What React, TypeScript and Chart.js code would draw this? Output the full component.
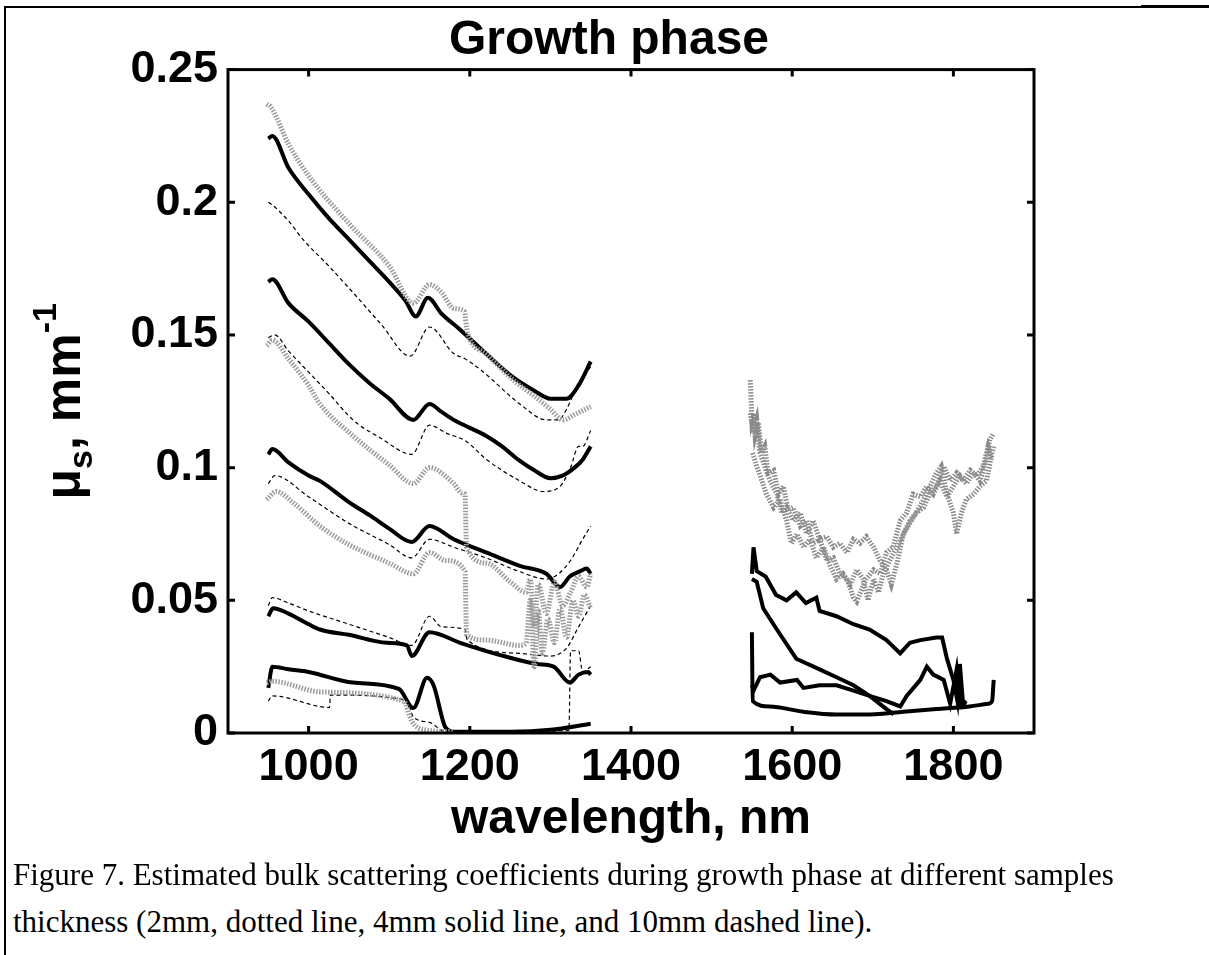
import { useEffect, useRef } from "react";
import { Chart, registerables } from "chart.js";
Chart.register(...registerables);

const FONT = "'Liberation Sans', Arial, Helvetica, sans-serif";

const titleText = "Growth phase";
const xTitle = "wavelength, nm";
const xTicks = [1000, 1200, 1400, 1600, 1800];
const yTicks = [0, 0.05, 0.1, 0.15, 0.2, 0.25];

// ---- 4 mm, solid (left band) ----
const wlS1 = [950, 955, 975, 1000, 1025, 1050, 1075, 1100, 1120, 1133, 1148, 1165, 1188, 1220, 1254, 1280, 1300, 1320, 1335, 1350];
const muS1 = [0.224, 0.225, 0.213, 0.203, 0.194, 0.186, 0.178, 0.170, 0.163, 0.157, 0.164, 0.158, 0.152, 0.143, 0.134, 0.129, 0.126, 0.126, 0.131, 0.140];
const wlS2 = [950, 955, 975, 1000, 1025, 1050, 1075, 1100, 1130, 1150, 1165, 1180, 1200, 1220, 1240, 1260, 1280, 1300, 1315, 1330, 1340, 1350];
const muS2 = [0.170, 0.171, 0.162, 0.155, 0.147, 0.139, 0.132, 0.126, 0.118, 0.124, 0.121, 0.118, 0.115, 0.112, 0.108, 0.103, 0.099, 0.096, 0.097, 0.100, 0.103, 0.108];
const wlS3 = [950, 955, 975, 1000, 1014, 1050, 1076, 1100, 1128, 1150, 1180, 1221, 1262, 1295, 1312, 1324, 1337, 1345, 1350];
const muS3 = [0.105, 0.107, 0.102, 0.097, 0.095, 0.087, 0.082, 0.077, 0.072, 0.078, 0.073, 0.068, 0.063, 0.060, 0.055, 0.059, 0.061, 0.062, 0.060];
const wlS4 = [950, 956, 975, 1000, 1014, 1050, 1097, 1122, 1128, 1150, 1188, 1242, 1283, 1304, 1324, 1335, 1347, 1350];
const muS4 = [0.044, 0.047, 0.045, 0.041, 0.039, 0.037, 0.034, 0.033, 0.029, 0.038, 0.034, 0.029, 0.026, 0.025, 0.019, 0.022, 0.023, 0.022];
const wlS5 = [950, 955, 975, 1000, 1055, 1112, 1130, 1147, 1155, 1170, 1180, 1250, 1300, 1350];
const muS5 = [0.017, 0.025, 0.024, 0.023, 0.019, 0.0166, 0.0094, 0.0208, 0.018, 0.002, 0.0005, 0.0005, 0.0012, 0.0035];

// ---- 10 mm, dashed (left band) ----
const wlD1 = [950, 955, 975, 993, 1025, 1055, 1090, 1126, 1150, 1180, 1194, 1213, 1262, 1295, 1310, 1320, 1335, 1350];
const muD1 = [0.200, 0.199, 0.193, 0.186, 0.176, 0.166, 0.154, 0.142, 0.153, 0.143, 0.141, 0.137, 0.124, 0.118, 0.118, 0.122, 0.132, 0.138];
const wlD2 = [950, 958, 975, 1000, 1025, 1055, 1090, 1128, 1150, 1171, 1195, 1221, 1262, 1291, 1312, 1325, 1335, 1340, 1350];
const muD2 = [0.149, 0.150, 0.144, 0.136, 0.128, 0.118, 0.111, 0.105, 0.116, 0.113, 0.110, 0.103, 0.095, 0.091, 0.093, 0.100, 0.108, 0.108, 0.114];
const wlD3 = [950, 958, 1000, 1050, 1100, 1128, 1150, 1180, 1220, 1260, 1295, 1310, 1325, 1340, 1350];
const muD3 = [0.094, 0.097, 0.089, 0.079, 0.071, 0.066, 0.073, 0.070, 0.066, 0.061, 0.058, 0.060, 0.065, 0.073, 0.078];
const wlD4 = [950, 955, 975, 1000, 1050, 1100, 1128, 1150, 1165, 1194, 1197, 1262, 1300, 1320, 1335, 1350];
const muD4 = [0.048, 0.051, 0.049, 0.046, 0.041, 0.036, 0.033, 0.044, 0.040, 0.039, 0.035, 0.030, 0.029, 0.032, 0.040, 0.048];
const wlD5 = [950, 955, 1026, 1027, 1122, 1130, 1150, 1170, 1200, 1250, 1323, 1325, 1335, 1340, 1350];
const muD5 = [0.012, 0.014, 0.0096, 0.0143, 0.0123, 0.006, 0.004, 0.0005, 0.0005, 0.0005, 0.001, 0.031, 0.031, 0.023, 0.025];

// ---- 2 mm, dotted (left band) ----
const wlG1 = [948, 953, 975, 1000, 1050, 1100, 1130, 1150, 1165, 1180, 1193, 1197, 1220, 1254, 1280, 1300, 1316, 1330, 1350];
const muG1 = [0.237, 0.236, 0.222, 0.210, 0.192, 0.176, 0.162, 0.169, 0.166, 0.160, 0.159, 0.151, 0.143, 0.133, 0.127, 0.122, 0.118, 0.120, 0.123];
const wlG2 = [948, 955, 975, 1000, 1014, 1055, 1100, 1130, 1150, 1180, 1190, 1194, 1196, 1221, 1250, 1270, 1275, 1280, 1285, 1295, 1305, 1315, 1325, 1335, 1345, 1350];
const muG2 = [0.146, 0.148, 0.141, 0.131, 0.124, 0.112, 0.101, 0.094, 0.100, 0.094, 0.0905, 0.090, 0.070, 0.064, 0.057, 0.053, 0.058, 0.040, 0.056, 0.045, 0.057, 0.048, 0.053, 0.059, 0.055, 0.060];
const wlG3 = [948, 960, 980, 1014, 1050, 1100, 1130, 1150, 1170, 1194, 1196, 1221, 1262, 1270, 1275, 1280, 1285, 1290, 1297, 1305, 1312, 1320, 1328, 1335, 1342, 1350];
const muG3 = [0.088, 0.091, 0.087, 0.078, 0.071, 0.064, 0.060, 0.068, 0.065, 0.061, 0.037, 0.035, 0.033, 0.034, 0.050, 0.025, 0.046, 0.030, 0.043, 0.034, 0.047, 0.036, 0.050, 0.044, 0.052, 0.047];
const wlG4 = [948, 955, 1014, 1118, 1128, 1142, 1180];
const muG4 = [0.0188, 0.0195, 0.0155, 0.012, 0.0045, 0.0013, 0.0005];

// ---- 2 mm, dotted (right band) ----
const wlR1 = [1548, 1550, 1552, 1554, 1558, 1562, 1566, 1570, 1577, 1583, 1589, 1595, 1601, 1610, 1618, 1626, 1634, 1643, 1651, 1659, 1668, 1676, 1680, 1686, 1692, 1701, 1709, 1717, 1725, 1734, 1742, 1750, 1759, 1767, 1775, 1783, 1792, 1800, 1808, 1816, 1825, 1833, 1841, 1845, 1850];
const muR1 = [0.133, 0.118, 0.1205, 0.112, 0.117, 0.1055, 0.108, 0.098, 0.099, 0.090, 0.093, 0.084, 0.085, 0.078, 0.080, 0.0715, 0.073, 0.065, 0.066, 0.060, 0.058, 0.051, 0.0495, 0.054, 0.058, 0.0615, 0.060, 0.068, 0.070, 0.080, 0.083, 0.090, 0.089, 0.093, 0.090, 0.095, 0.089, 0.093, 0.097, 0.094, 0.098, 0.095, 0.103, 0.1105, 0.113];
const wlR2 = [1548, 1552, 1556, 1560, 1566, 1572, 1581, 1587, 1593, 1601, 1610, 1618, 1626, 1634, 1643, 1651, 1659, 1668, 1676, 1684, 1692, 1701, 1709, 1717, 1723, 1730, 1738, 1746, 1754, 1763, 1771, 1779, 1785, 1792, 1800, 1804, 1810, 1816, 1825, 1833, 1841, 1848, 1850];
const muR2 = [0.1205, 0.113, 0.118, 0.1055, 0.1005, 0.0954, 0.090, 0.083, 0.085, 0.080, 0.083, 0.075, 0.080, 0.073, 0.074, 0.070, 0.0715, 0.068, 0.073, 0.0715, 0.074, 0.070, 0.065, 0.0615, 0.056, 0.064, 0.075, 0.080, 0.083, 0.088, 0.093, 0.098, 0.1005, 0.090, 0.083, 0.075, 0.083, 0.088, 0.090, 0.093, 0.095, 0.1055, 0.108];
const wlR3 = [1551, 1556, 1562, 1568, 1577, 1585, 1593, 1599, 1606, 1614, 1622, 1630, 1639, 1647, 1655, 1663, 1672, 1680, 1688, 1694, 1701, 1707, 1713, 1721, 1730, 1738, 1746, 1754, 1763, 1771, 1779, 1788, 1796, 1804, 1812, 1821, 1829, 1837, 1843, 1848];
const muR3 = [0.1055, 0.1005, 0.0954, 0.090, 0.085, 0.088, 0.080, 0.0715, 0.075, 0.070, 0.073, 0.066, 0.070, 0.063, 0.058, 0.060, 0.056, 0.0615, 0.058, 0.050, 0.058, 0.053, 0.060, 0.065, 0.070, 0.075, 0.079, 0.083, 0.085, 0.090, 0.093, 0.1005, 0.095, 0.098, 0.095, 0.099, 0.097, 0.1005, 0.108, 0.103];

// ---- 4 mm, solid (right band) ----
const wlB1 = [1550, 1552, 1556, 1567, 1580, 1593, 1605, 1617, 1630, 1634, 1655, 1676, 1696, 1717, 1734, 1746, 1759, 1779, 1786, 1792, 1800, 1805, 1808, 1812, 1816];
const muB1 = [0.060, 0.070, 0.061, 0.059, 0.052, 0.050, 0.053, 0.049, 0.051, 0.046, 0.044, 0.041, 0.039, 0.035, 0.030, 0.034, 0.035, 0.036, 0.036, 0.028, 0.020, 0.012, 0.026, 0.011, 0.012];
const wlB2 = [1550, 1556, 1564, 1581, 1605, 1634, 1655, 1676, 1696, 1717, 1726];
const muB2 = [0.058, 0.057, 0.047, 0.039, 0.028, 0.024, 0.021, 0.018, 0.014, 0.009, 0.007];
const wlB3 = [1550, 1552, 1560, 1573, 1585, 1606, 1614, 1634, 1655, 1676, 1696, 1717, 1734, 1742, 1759, 1767, 1775, 1788, 1796, 1804, 1808, 1816];
const muB3 = [0.018, 0.016, 0.021, 0.022, 0.019, 0.020, 0.017, 0.018, 0.018, 0.016, 0.014, 0.012, 0.010, 0.014, 0.020, 0.025, 0.022, 0.020, 0.011, 0.024, 0.011, 0.011];
const wlB4 = [1550, 1551, 1572, 1614, 1655, 1697, 1738, 1779, 1820, 1843, 1848, 1850];
const muB4 = [0.038, 0.012, 0.010, 0.008, 0.007, 0.007, 0.008, 0.009, 0.010, 0.011, 0.012, 0.020];

const pts = (wl: number[], mu: number[]) => wl.map((w, i) => ({ x: w, y: mu[i] }));

const solid = { borderColor: "#000", borderWidth: 4, borderDash: [] as number[], cubicInterpolationMode: "monotone" };
const solidR = { borderColor: "#000", borderWidth: 4, borderDash: [] as number[] };
const dashed = { borderColor: "#000", borderWidth: 1.2, borderDash: [4, 3], cubicInterpolationMode: "monotone" };
const dotted = { borderColor: "#9a9a9a", borderWidth: 5, borderDash: [1.5, 1.5], cubicInterpolationMode: "monotone" };
const dottedR = { borderColor: "#8a8a8a", borderWidth: 5, borderDash: [1.5, 1.5] };

const series: [number[], number[], any][] = [
  [wlG1, muG1, dotted], [wlG2, muG2, dotted], [wlG3, muG3, dotted], [wlG4, muG4, dotted],
  [wlR1, muR1, dottedR], [wlR2, muR2, dottedR], [wlR3, muR3, dottedR],
  [wlD1, muD1, dashed], [wlD2, muD2, dashed], [wlD3, muD3, dashed], [wlD4, muD4, dashed], [wlD5, muD5, dashed],
  [wlS1, muS1, solid], [wlS2, muS2, solid], [wlS3, muS3, solid], [wlS4, muS4, solid], [wlS5, muS5, solid],
  [wlB1, muB1, solidR], [wlB2, muB2, solidR], [wlB3, muB3, solidR], [wlB4, muB4, solid],
];

const framePlugin = {
  id: "matlabFrame",
  afterDraw(chart: any) {
    const { ctx, chartArea, scales } = chart;
    const { left, right, top, bottom } = chartArea;
    const xs = scales.x, ys = scales.y;
    ctx.save();
    ctx.strokeStyle = "#000";
    ctx.lineWidth = 3;
    ctx.strokeRect(left, top, right - left, bottom - top);
    const tl = 7;
    ctx.beginPath();
    xTicks.forEach((v) => {
      const px = xs.getPixelForValue(v);
      ctx.moveTo(px, bottom); ctx.lineTo(px, bottom - tl);
      ctx.moveTo(px, top); ctx.lineTo(px, top + tl);
    });
    yTicks.forEach((v) => {
      const py = ys.getPixelForValue(v);
      ctx.moveTo(left, py); ctx.lineTo(left + tl, py);
      ctx.moveTo(right, py); ctx.lineTo(right - tl, py);
    });
    ctx.stroke();

    // y-axis title with subscript / superscript
    const big = `bold 50px ${FONT}`;
    const small = `bold 34px ${FONT}`;
    const parts: [string, string, number][] = [["μ", big, 0], ["s", small, 12], [", mm", big, 0], ["-1", small, -24]];
    let total = 0;
    parts.forEach(([t, f]) => { ctx.font = f; total += ctx.measureText(t).width; });
    ctx.translate(80, (top + bottom) / 2);
    ctx.rotate(-Math.PI / 2);
    ctx.fillStyle = "#000";
    ctx.textBaseline = "alphabetic";
    ctx.textAlign = "left";
    let cx = -total / 2;
    parts.forEach(([t, f, dy]) => { ctx.font = f; ctx.fillText(t, cx, dy); cx += ctx.measureText(t).width; });
    ctx.restore();
  },
};

export default function App() {
  const ref = useRef<HTMLCanvasElement>(null);
  useEffect(() => {
    if (!ref.current) return;
    const chart = new Chart(ref.current, {
      type: "line",
      data: {
        datasets: series.map(([wl, mu, st]) => ({
          data: pts(wl, mu),
          ...st,
          pointRadius: 0,
          fill: false,
        })),
      },
      options: {
        animation: false,
        responsive: true,
        maintainAspectRatio: false,
        layout: { padding: { left: 9, right: 0, top: 0, bottom: 0 } },
        plugins: {
          legend: { display: false },
          tooltip: { enabled: false },
          title: {
            display: true,
            text: titleText,
            color: "#000",
            font: { size: 48, weight: "bold", family: FONT },
            padding: { top: 12, bottom: 0 },
          },
        },
        scales: {
          x: {
            type: "linear",
            min: 900,
            max: 1900,
            grid: { display: false, drawTicks: false },
            border: { display: false },
            afterBuildTicks: (s: any) => { s.ticks = xTicks.map((v) => ({ value: v })); },
            ticks: {
              color: "#000",
              padding: 8,
              maxRotation: 0,
              autoSkip: false,
              font: { size: 45, weight: "bold", family: FONT },
              callback: (v: any) => String(v),
            },
            title: {
              display: true,
              text: xTitle,
              color: "#000",
              font: { size: 48, weight: "bold", family: FONT },
              padding: { top: 0, bottom: 11 },
            },
            afterFit: (s: any) => { s.height = 127; },
          },
          y: {
            min: 0,
            max: 0.25,
            grid: { display: false, drawTicks: false },
            border: { display: false },
            afterBuildTicks: (s: any) => { s.ticks = yTicks.map((v) => ({ value: v })); },
            ticks: {
              color: "#000",
              padding: 10,
              autoSkip: false,
              font: { size: 45, weight: "bold", family: FONT },
              callback: (v: any) => String(Math.round(Number(v) * 100) / 100),
            },
            afterFit: (s: any) => { s.width = 219; },
          },
          yRight: {
            position: "right",
            min: 0,
            max: 0.25,
            grid: { display: false, drawTicks: false },
            border: { display: false },
            ticks: { display: false },
            afterFit: (s: any) => { s.width = 175; },
          },
        },
      },
      plugins: [framePlugin],
    });
    return () => chart.destroy();
  }, []);

  const capStyle: any = {
    position: "absolute",
    left: 13,
    whiteSpace: "nowrap",
    fontFamily: "'Liberation Serif', 'Times New Roman', serif",
    fontSize: 31,
    color: "#000",
  };

  return (
    <div style={{ position: "absolute", left: 0, top: 0, width: 1209, height: 955, background: "#fff", overflow: "hidden" }}>
      <div style={{ position: "absolute", left: 4, top: 6, width: 1137, height: 2, background: "#000" }} />
      <div style={{ position: "absolute", left: 1141, top: 5, width: 68, height: 3, background: "#000" }} />
      <div style={{ position: "absolute", left: 4, top: 6, width: 2, height: 949, background: "#000" }} />
      <div style={{ position: "absolute", left: 0, top: 0, width: 1209, height: 860 }}>
        <canvas ref={ref} />
      </div>
      <div style={{ ...capStyle, top: 857 }}>Figure 7. Estimated bulk scattering coefficients during growth phase at different samples</div>
      <div style={{ ...capStyle, top: 904 }}>thickness (2mm, dotted line, 4mm solid line, and 10mm dashed line).</div>
    </div>
  );
}
